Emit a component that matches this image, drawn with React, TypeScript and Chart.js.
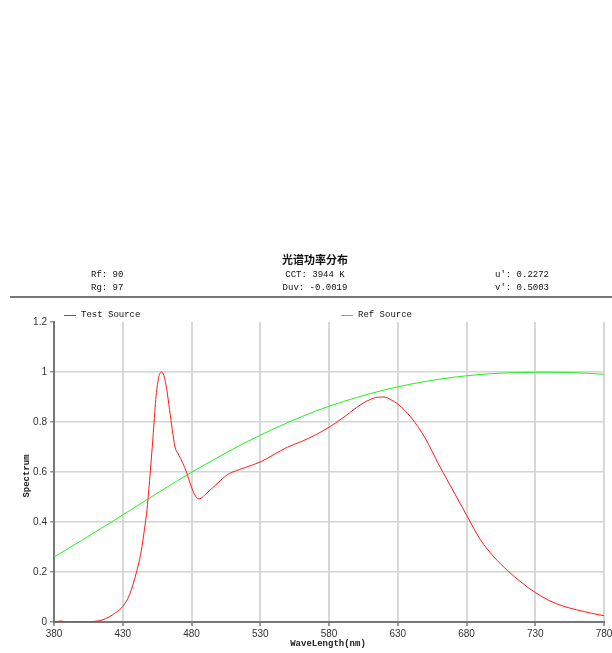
import React, { useEffect, useRef } from "react";
import { Chart, registerables } from "chart.js";

Chart.register(...registerables);

const testWavelengths = [380, 385, 390, 395, 400, 405, 410, 415, 420, 425, 430, 435, 440, 443, 445, 448, 450, 452, 454, 456, 458, 460, 462, 464, 466, 468, 470, 472, 475, 477, 479, 481, 483, 485, 487, 490, 495, 500, 505, 510, 515, 520, 530, 540, 550, 560, 570, 580, 590, 600, 605, 610, 615, 620, 625, 630, 640, 650, 660, 670, 680, 690, 700, 710, 720, 730, 740, 750, 760, 770, 780];
const testValues = [0, 0.004, 0, 0, 0, 0, 0.003, 0.008, 0.02, 0.038, 0.062, 0.11, 0.2, 0.27, 0.34, 0.47, 0.6, 0.74, 0.89, 0.975, 1.0, 0.985, 0.93, 0.85, 0.77, 0.7, 0.675, 0.655, 0.618, 0.59, 0.555, 0.525, 0.503, 0.493, 0.495, 0.51, 0.535, 0.56, 0.585, 0.6, 0.61, 0.62, 0.64, 0.67, 0.7, 0.722, 0.748, 0.779, 0.816, 0.858, 0.876, 0.89, 0.899, 0.9, 0.889, 0.872, 0.816, 0.735, 0.628, 0.528, 0.428, 0.33, 0.26, 0.205, 0.158, 0.118, 0.086, 0.064, 0.049, 0.036, 0.025];

const refWavelengths = [380, 400, 420, 430, 440, 460, 480, 500, 520, 540, 560, 580, 600, 620, 640, 660, 680, 700, 720, 740, 760, 780];
const refValues = [0.26, 0.326, 0.394, 0.428, 0.463, 0.532, 0.599, 0.661, 0.72, 0.773, 0.821, 0.863, 0.898, 0.928, 0.952, 0.971, 0.985, 0.994, 0.998, 0.999, 0.997, 0.991];

const seriesNames = ["Test Source", "Ref Source"];
const seriesColors = ["#ff1a1a", "#22ee22"];
const chartTitle = "光谱功率分布";
const infoLeft = ["Rf: 90", "Rg: 97"];
const infoMid = ["CCT: 3944 K", "Duv: -0.0019"];
const infoRight = ["u': 0.2272", "v': 0.5003"];
const xTitle = "WaveLength(nm)";
const yTitle = "Spectrum";

const MONO = "'Liberation Mono', 'DejaVu Sans Mono', monospace";

const decorPlugin = {
  id: "decor",
  beforeDraw(chart: any) {
    const ctx = chart.ctx;
    ctx.save();
    ctx.fillStyle = "#ffffff";
    ctx.fillRect(0, 0, chart.width, chart.height);
    ctx.restore();
  },
  afterDraw(chart: any) {
    const ctx = chart.ctx;
    ctx.save();
    ctx.fillStyle = "#111";
    ctx.textBaseline = "middle";
    ctx.font = "bold 11px 'Noto Sans CJK SC', sans-serif";
    ctx.textAlign = "center";
    ctx.fillText(chartTitle, 315, 260);
    ctx.font = "9px " + MONO;
    ctx.textAlign = "left";
    ctx.fillText(infoLeft[0], 91, 275);
    ctx.fillText(infoLeft[1], 91, 288);
    ctx.textAlign = "center";
    ctx.fillText(infoMid[0], 315, 275);
    ctx.fillText(infoMid[1], 315, 288);
    ctx.textAlign = "left";
    ctx.fillText(infoRight[0], 495, 275);
    ctx.fillText(infoRight[1], 495, 288);
    // separator
    ctx.fillStyle = "#777";
    ctx.fillRect(10, 296, 602, 2);
    // legend
    const legendX = [64, 341];
    for (let i = 0; i < 2; i++) {
      ctx.fillStyle = seriesColors[i];
      ctx.fillRect(legendX[i], 315, 12, 1);
      ctx.fillStyle = "#111";
      ctx.font = "9px " + MONO;
      ctx.textAlign = "left";
      ctx.fillText(seriesNames[i], legendX[i] + 17, 315);
    }
    // axis titles
    ctx.font = "bold 9px " + MONO;
    ctx.fillStyle = "#222";
    ctx.textAlign = "center";
    ctx.fillText(xTitle, 328, 644);
    ctx.translate(27, 476);
    ctx.rotate(-Math.PI / 2);
    ctx.fillText(yTitle, 0, 0);
    ctx.restore();
  },
};

export default function App() {
  const ref = useRef<HTMLCanvasElement>(null);
  useEffect(() => {
    document.body.style.margin = "0";
    const canvas = ref.current!;
    const chart = new Chart(canvas, {
      type: "line",
      data: {
        datasets: [
          {
            label: seriesNames[0],
            data: testWavelengths.map((x, i) => ({ x, y: testValues[i] })),
            borderColor: seriesColors[0],
            borderWidth: 1,
            pointRadius: 0,
            cubicInterpolationMode: "monotone",
            fill: false,
          },
          {
            label: seriesNames[1],
            data: refWavelengths.map((x, i) => ({ x, y: refValues[i] })),
            borderColor: seriesColors[1],
            borderWidth: 1,
            pointRadius: 0,
            cubicInterpolationMode: "monotone",
            fill: false,
          },
        ],
      },
      options: {
        animation: false,
        responsive: false,
        maintainAspectRatio: false,
        devicePixelRatio: 1,
        layout: { padding: { top: 322, left: 0, right: 8, bottom: 0 } },
        plugins: { legend: { display: false }, title: { display: false }, tooltip: { enabled: false } },
        scales: {
          x: {
            type: "linear",
            min: 380,
            max: 780,
            ticks: {
              stepSize: 50,
              color: "#333",
              font: { family: "'Liberation Sans', Arial, sans-serif", size: 10 },
              padding: 2,
              maxRotation: 0,
            },
            grid: { color: "#d8d8d8", lineWidth: 2, tickLength: 4, tickColor: "#999" },
            border: { color: "#777", width: 2 },
            afterFit(scale: any) {
              scale.height = 31;
              scale.paddingLeft = 0;
              scale.paddingRight = 0;
            },
          },
          y: {
            min: 0,
            max: 1.2,
            ticks: {
              stepSize: 0.2,
              color: "#333",
              font: { family: "'Liberation Sans', Arial, sans-serif", size: 10 },
              padding: 3,
              callback: (v: any) => String(Number(Number(v).toFixed(1))),
            },
            grid: {
              color: (c: any) => (c.tick && Math.abs(c.tick.value - 1.2) < 1e-6 ? "rgba(0,0,0,0)" : "#d4d4d4"),
              lineWidth: 1.5,
              tickLength: 4,
              tickColor: "#999",
            },
            border: { color: "#777", width: 2 },
            afterFit(scale: any) {
              scale.width = 54;
              scale.paddingTop = 0;
              scale.paddingBottom = 0;
            },
          },
        },
      },
      plugins: [decorPlugin],
    });
    return () => chart.destroy();
  }, []);
  return (
    <div style={{ position: "absolute", left: 0, top: 0, width: 612, height: 653 }}>
      <canvas ref={ref} width={612} height={653} style={{ width: 612, height: 653, display: "block" }} />
    </div>
  );
}
